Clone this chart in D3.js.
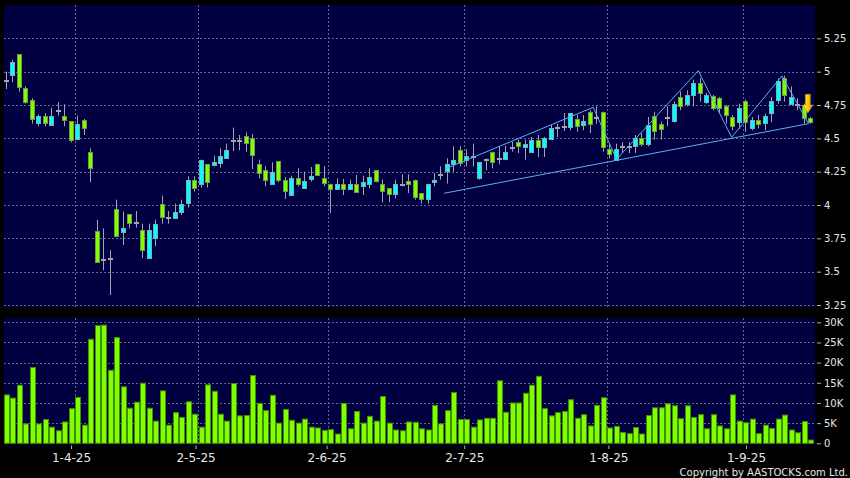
<!DOCTYPE html>
<html lang="en">
<head>
<meta charset="utf-8">
<title>Candlestick chart</title>
<script src="https://cdn.jsdelivr.net/npm/d3@7"></script>
<style>
  body { margin: 0; background: #000; }
  svg { display: block; }
</style>
</head>
<body>
<script>
var w = 850;
var h = 478;

// month ticks (index of first trading day of month)
var tickIdx = [10, 29, 49, 70, 92, 113];
var tickLabels = ["1-4-25", "2-5-25", "2-6-25", "2-7-25", "1-8-25", "1-9-25"];
var priceTicks = [3.25, 3.5, 3.75, 4, 4.25, 4.5, 4.75, 5, 5.25];
var volTicks = [0, 5000, 10000, 15000, 20000, 25000, 30000];
var volLabels = ["0", "5K", "10K", "15K", "20K", "25K", "30K"];

var open = [4.94, 4.97, 5.13, 4.875, 4.79, 4.62, 4.665, 4.605, 4.71, 4.665,
  4.63, 4.50, 4.635, 4.40, 3.805, 3.595, 3.60, 3.97, 3.80, 3.93,
  3.87, 3.81, 3.60, 3.75, 4.01, 3.91, 3.90, 3.95, 4.01, 4.185,
  4.16, 4.305, 4.30, 4.32, 4.35, 4.49, 4.49, 4.52, 4.50, 4.305,
  4.26, 4.16, 4.33, 4.185, 4.07, 4.20, 4.125, 4.19, 4.31, 4.20,
  4.16, 4.12, 4.16, 4.12, 4.16, 4.14, 4.16, 4.26, 4.16, 4.125,
  4.08, 4.16, 4.18, 4.19, 4.09, 4.045, 4.175, 4.235, 4.25, 4.31,
  4.41, 4.34, 4.37, 4.20, 4.345, 4.395, 4.35, 4.35, 4.435, 4.47,
  4.435, 4.40, 4.485, 4.435, 4.50, 4.585, 4.595, 4.585, 4.645, 4.60,
  4.70, 4.66, 4.70, 4.42, 4.34, 4.445, 4.445, 4.44, 4.50, 4.455,
  4.67, 4.61, 4.66, 4.63, 4.81, 4.76, 4.825, 4.915, 4.775, 4.82,
  4.80, 4.74, 4.66, 4.62, 4.78, 4.575, 4.64, 4.61, 4.69, 4.79,
  4.95, 4.755, 4.755, 4.75, 4.65];
var high = [5.00, 5.09, 5.13, 4.89, 4.80, 4.68, 4.69, 4.73, 4.77, 4.755,
  4.63, 4.67, 4.645, 4.425, 3.8875, 3.825, 3.66, 4.04, 3.95, 3.93,
  3.955, 3.86, 3.86, 3.89, 4.07, 3.955, 4.01, 4.04, 4.215, 4.215,
  4.34, 4.305, 4.37, 4.425, 4.46, 4.58, 4.525, 4.545, 4.53, 4.34,
  4.29, 4.32, 4.33, 4.21, 4.22, 4.275, 4.25, 4.285, 4.31, 4.29,
  4.16, 4.20, 4.195, 4.19, 4.225, 4.22, 4.275, 4.26, 4.19, 4.125,
  4.19, 4.23, 4.23, 4.19, 4.09, 4.155, 4.24, 4.29, 4.35, 4.44,
  4.44, 4.42, 4.46, 4.32, 4.35, 4.40, 4.44, 4.445, 4.475, 4.49,
  4.49, 4.51, 4.525, 4.51, 4.60, 4.61, 4.69, 4.69, 4.675, 4.675,
  4.71, 4.74, 4.70, 4.46, 4.46, 4.47, 4.47, 4.525, 4.54, 4.66,
  4.70, 4.625, 4.74, 4.775, 4.85, 4.86, 4.94, 4.95, 4.84, 4.825,
  4.81, 4.75, 4.675, 4.76, 4.79, 4.66, 4.675, 4.685, 4.81, 4.95,
  4.97, 4.89, 4.80, 4.76, 4.66];
var low = [4.87, 4.92, 4.85, 4.76, 4.61, 4.59, 4.59, 4.60, 4.67, 4.59,
  4.47, 4.50, 4.525, 4.17, 3.57, 3.51, 3.325, 3.77, 3.70, 3.825,
  3.83, 3.60, 3.60, 3.69, 3.86, 3.86, 3.90, 3.925, 3.98, 4.10,
  4.13, 4.13, 4.29, 4.28, 4.35, 4.405, 4.41, 4.40, 4.27, 4.20,
  4.14, 4.16, 4.17, 4.045, 4.07, 4.14, 4.125, 4.175, 4.22, 4.14,
  3.94, 4.12, 4.075, 4.12, 4.10, 4.075, 4.125, 4.17, 4.02, 4.02,
  4.05, 4.14, 4.09, 4.04, 4.01, 4.01, 4.14, 4.19, 4.16, 4.25,
  4.29, 4.29, 4.29, 4.19, 4.26, 4.275, 4.305, 4.35, 4.40, 4.39,
  4.34, 4.40, 4.36, 4.36, 4.50, 4.51, 4.555, 4.56, 4.55, 4.56,
  4.54, 4.61, 4.40, 4.35, 4.34, 4.39, 4.39, 4.39, 4.44, 4.44,
  4.49, 4.49, 4.59, 4.62, 4.71, 4.74, 4.74, 4.775, 4.76, 4.71,
  4.69, 4.61, 4.56, 4.57, 4.55, 4.56, 4.575, 4.56, 4.62, 4.76,
  4.775, 4.755, 4.71, 4.61, 4.61];
var close = [4.94, 5.07, 4.88, 4.77, 4.65, 4.67, 4.61, 4.67, 4.71, 4.635,
  4.49, 4.61, 4.575, 4.28, 3.575, 3.595, 3.60, 3.77, 3.83, 3.86,
  3.87, 3.66, 3.81, 3.855, 3.91, 3.91, 3.945, 4.01, 4.185, 4.125,
  4.34, 4.17, 4.32, 4.37, 4.41, 4.49, 4.49, 4.47, 4.37, 4.24,
  4.185, 4.25, 4.185, 4.10, 4.20, 4.155, 4.18, 4.215, 4.23, 4.16,
  4.12, 4.16, 4.12, 4.16, 4.10, 4.17, 4.21, 4.18, 4.11, 4.08,
  4.155, 4.16, 4.155, 4.06, 4.045, 4.155, 4.19, 4.235, 4.305, 4.34,
  4.31, 4.37, 4.37, 4.32, 4.345, 4.32, 4.35, 4.40, 4.435, 4.44,
  4.455, 4.49, 4.435, 4.50, 4.58, 4.585, 4.595, 4.69, 4.59, 4.63,
  4.61, 4.66, 4.44, 4.38, 4.42, 4.445, 4.445, 4.50, 4.455, 4.60,
  4.56, 4.575, 4.66, 4.755, 4.74, 4.825, 4.915, 4.84, 4.825, 4.73,
  4.725, 4.675, 4.59, 4.725, 4.62, 4.635, 4.61, 4.665, 4.78, 4.93,
  4.825, 4.81, 4.755, 4.65, 4.62];
var volume = [12000, 11200, 14400, 4800, 18800, 4800, 5900, 4000, 3100, 5300,
  8600, 11400, 4500, 25800, 29200, 29300, 18100, 26200, 14000, 8700,
  10200, 14900, 8700, 5500, 13000, 4500, 7600, 6400, 10300, 7200,
  4000, 14500, 12900, 7200, 5500, 14800, 6800, 6900, 16800, 9900,
  8100, 11900, 5000, 8400, 5700, 5000, 6000, 4000, 3800, 3200,
  3400, 2300, 9900, 3600, 7900, 5000, 6700, 5500, 11600, 5000,
  3300, 3100, 5300, 5200, 3600, 3300, 9400, 4800, 8100, 12600,
  5900, 5900, 4000, 5800, 6200, 6200, 15500, 7700, 10000, 10000,
  12400, 14400, 16600, 8600, 6800, 7600, 7900, 10800, 6200, 7100,
  4300, 9400, 11300, 3800, 4200, 2700, 2400, 3900, 2300, 6900,
  8800, 8800, 9800, 9300, 6100, 9300, 6400, 7100, 3600, 7100,
  4300, 3600, 12000, 5500, 5100, 6000, 2400, 4500, 3700, 6000,
  7000, 3300, 2600, 5400, 800];

// drawn trend lines, as [candle index, price]
var zigzag = [[67.8, 4.275], [90.4, 4.733], [94.0, 4.343], [106.6, 5.007],
  [111.75, 4.508], [119.5, 4.968], [123.6, 4.61]];
var support = [[67.4, 4.088], [123.6, 4.61]];
// down arrow marker: index, top price, neck price, tip price
var arrow = {idx: 123.5, top: 4.83, neck: 4.75, tip: 4.69};

var n = close.length;
var pl = 4, pr = 815;
var pTop = 5, pBot = 307;
var vTop = 318, vBot = 444.5;

var x = d3.scaleLinear().domain([0, n - 1]).range([7, 811.1]);
var xTick = d3.scaleLinear().domain([0, n - 1]).range([5.5, 818.1]);
var y = d3.scaleLinear().domain([3.25, 5.5]).range([305, 5]);
var yv = d3.scaleLinear().domain([0, 30000]).range([443.3, 322.3]);
var pitch = x(1) - x(0);

var svg = d3.select("body").append("svg").attr("width", w).attr("height", h)
  .style("font-family", "'DejaVu Sans', sans-serif");

svg.append("rect").attr("width", w).attr("height", h).attr("fill", "#000");
svg.append("rect").attr("x", pl).attr("y", pTop).attr("width", pr - pl).attr("height", pBot - pTop).attr("fill", "#000040");
svg.append("rect").attr("x", pl).attr("y", vTop).attr("width", pr - pl).attr("height", vBot - vTop).attr("fill", "#000040");

var grid = svg.append("g").attr("stroke", "#65658f").attr("stroke-width", 1)
  .attr("stroke-dasharray", "2,2").attr("shape-rendering", "crispEdges");

grid.selectAll(".hp").data(priceTicks).enter().append("line")
  .attr("x1", pl).attr("x2", pr)
  .attr("y1", function (d) { return Math.round(y(d)) + 0.5; })
  .attr("y2", function (d) { return Math.round(y(d)) + 0.5; });
grid.selectAll(".hv").data(volTicks.slice(1)).enter().append("line")
  .attr("x1", pl).attr("x2", pr)
  .attr("y1", function (d) { return Math.round(yv(d)) + 0.5; })
  .attr("y2", function (d) { return Math.round(yv(d)) + 0.5; });
tickIdx.forEach(function (i) {
  var gx = Math.round(x(i) + pitch / 2) + 0.5;
  grid.append("line").attr("x1", gx).attr("x2", gx).attr("y1", pTop).attr("y2", pBot);
  grid.append("line").attr("x1", gx).attr("x2", gx).attr("y1", vTop).attr("y2", vBot);
});

var idx = d3.range(n);
function cx(i) { return Math.round(x(i)); }

// wicks
svg.append("g").selectAll("line").data(idx).enter().append("line")
  .attr("x1", function (i) { return cx(i) - 0.5; })
  .attr("x2", function (i) { return cx(i) - 0.5; })
  .attr("y1", function (i) { return y(high[i]); })
  .attr("y2", function (i) { return y(low[i]); })
  .attr("stroke", "#a4a4ac").attr("stroke-width", 1);

// bodies
svg.append("g").selectAll("rect").data(idx).enter().append("rect")
  .attr("x", function (i) { return cx(i) - 2.5; })
  .attr("width", 4)
  .attr("y", function (i) { return Math.round(y(Math.max(open[i], close[i]))) + 0.5; })
  .attr("height", function (i) { return Math.max(1, Math.round(Math.abs(y(open[i]) - y(close[i])))); })
  .attr("fill", function (i) {
    if (close[i] > open[i]) return "#00ffff";
    if (close[i] < open[i]) return "#80ff00";
    return "#a4a4ac";
  })
  .attr("stroke", function (i) {
    if (close[i] > open[i]) return "#80aab4";
    if (close[i] < open[i]) return "#6a9a4a";
    return "#a4a4ac";
  })
  .attr("stroke-width", 1);

// volume bars
svg.append("g").selectAll("rect").data(idx).enter().append("rect")
  .attr("x", function (i) { return cx(i) - 2.5; })
  .attr("width", 5)
  .attr("y", function (i) { return yv(volume[i]); })
  .attr("height", function (i) { return yv(0) - yv(volume[i]); })
  .attr("fill", "#80ff00").attr("stroke", "#3f8f00").attr("stroke-width", 1);

// trend lines
var line = d3.line().x(function (d) { return x(d[0]); }).y(function (d) { return y(d[1]); });
svg.append("path").datum(zigzag).attr("d", line).attr("fill", "none").attr("stroke", "#5ab0f0").attr("stroke-width", 1);
svg.append("path").datum(support).attr("d", line).attr("fill", "none").attr("stroke", "#5ab0f0").attr("stroke-width", 1);

// arrow
var grad = svg.append("defs").append("linearGradient").attr("id", "ag");
grad.append("stop").attr("offset", "0%").attr("stop-color", "#fff080");
grad.append("stop").attr("offset", "50%").attr("stop-color", "#ffd000");
grad.append("stop").attr("offset", "100%").attr("stop-color", "#e09000");
var ax = x(arrow.idx);
var ap = d3.path();
ap.moveTo(ax - 2.5, y(arrow.top));
ap.lineTo(ax + 2.5, y(arrow.top));
ap.lineTo(ax + 2.5, y(arrow.neck));
ap.lineTo(ax + 5, y(arrow.neck));
ap.lineTo(ax, y(arrow.tip));
ap.lineTo(ax - 5, y(arrow.neck));
ap.lineTo(ax - 2.5, y(arrow.neck));
ap.closePath();
svg.append("path").attr("d", ap.toString()).attr("fill", "url(#ag)").attr("stroke", "#c08a00").attr("stroke-width", 0.6);

// axes
function styleAxis(g, size) {
  g.select(".domain").remove();
  g.selectAll(".tick line").attr("stroke", "#b0b0b0");
  g.selectAll(".tick text").attr("fill", "#e6e6e6").style("font-size", size).style("font-family", "'DejaVu Sans', sans-serif");
}

svg.append("g").attr("transform", "translate(0," + 445.5 + ")")
  .call(d3.axisBottom(xTick).tickValues(tickIdx)
    .tickFormat(function (d, i) { return tickLabels[i]; })
    .tickSize(3.5).tickPadding(4))
  .call(styleAxis, "12px");

svg.append("g").attr("transform", "translate(" + 817 + ",0)")
  .call(d3.axisRight(y).tickValues(priceTicks).tickFormat(d3.format("~g"))
    .tickSize(4).tickPadding(3))
  .call(styleAxis, "10px");

svg.append("g").attr("transform", "translate(" + 817 + ",0)")
  .call(d3.axisRight(yv).tickValues(volTicks)
    .tickFormat(function (d, i) { return volLabels[i]; })
    .tickSize(4).tickPadding(3))
  .call(styleAxis, "10px");

svg.append("text").attr("x", 848).attr("y", 475.5).attr("text-anchor", "end")
  .attr("fill", "#e6e6e6").style("font-size", "10px")
  .text("Copyright by AASTOCKS.com Ltd.");
</script>
</body>
</html>
